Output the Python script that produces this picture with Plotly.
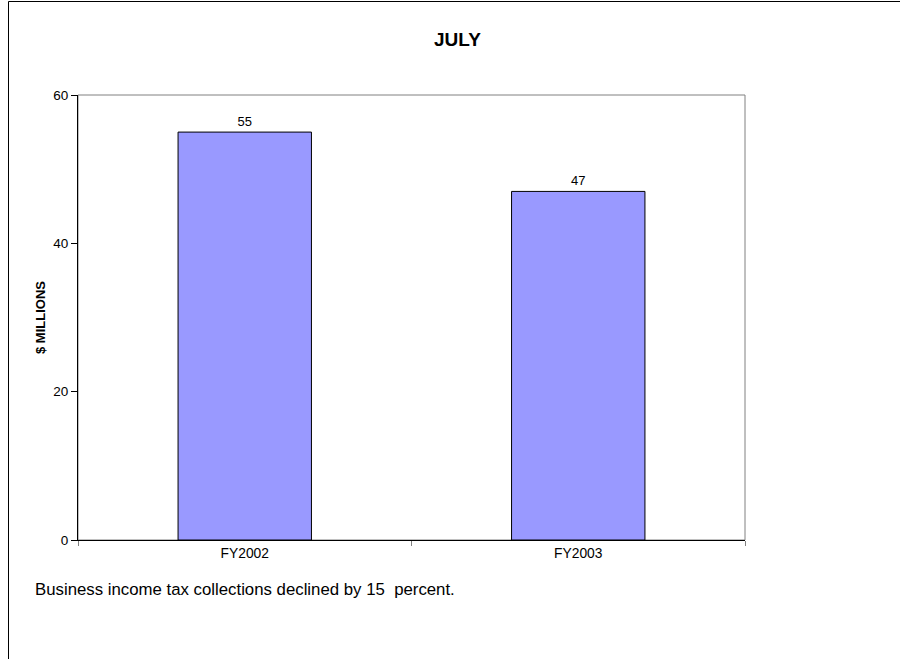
import plotly.graph_objects as go

categories = ["FY2002", "FY2003"]
values = [55, 47]
title_text = "JULY"
y_title = "$ MILLIONS"
footnote = "Business income tax collections declined by 15  percent."

W, H = 900, 659
L, R, T, B = 78, 745, 95, 540
pw, ph = R - L, B - T

def px_x(x):
    return (x - L) / pw

def px_y(y):
    return (B - y) / ph

FONT = "Arial, Liberation Sans, sans-serif"

fig = go.Figure()
fig.add_trace(go.Bar(
    x=categories, y=values, width=0.4,
    marker=dict(color="#9999FF", line=dict(color="black", width=1)),
    text=[str(v) for v in values], textposition="outside",
    textfont=dict(family=FONT, size=13, color="black"),
    cliponaxis=False, hoverinfo="skip",
))

fig.update_layout(
    width=W, height=H,
    margin=dict(l=L, r=W - R, t=T, b=H - B),
    paper_bgcolor="white", plot_bgcolor="white",
    showlegend=False,
    font=dict(family=FONT, size=13, color="black"),
    xaxis=dict(type="category", tickson="boundaries", ticks="outside", ticklen=5,
               tickcolor="#808080", showline=True, linecolor="black", linewidth=1,
               showgrid=False, tickfont=dict(size=13.8), range=[-0.5, 1.5]),
    yaxis=dict(range=[0, 60], dtick=20, ticks="outside", ticklen=6, tickcolor="black",
               showline=True, linecolor="black", linewidth=1, showgrid=False,
               zeroline=False, tickfont=dict(size=13.5)),
    shapes=[
        dict(type="rect", xref="paper", yref="paper", x0=0, x1=1, y0=0, y1=1,
             line=dict(color="#808080", width=1), layer="below"),
        dict(type="rect", xref="paper", yref="paper", x0=px_x(8.5), x1=px_x(1000),
             y0=px_y(800), y1=px_y(1.5), line=dict(color="black", width=1), layer="below"),
    ],
    annotations=[
        dict(text="<b>" + title_text + "</b>", xref="paper", yref="paper",
             x=px_x(457), y=px_y(39), showarrow=False, font=dict(size=19),
             xanchor="center", yanchor="middle"),
        dict(text="<b>" + y_title + "</b>", xref="paper", yref="paper",
             x=px_x(40), y=px_y(318), showarrow=False, textangle=-90, font=dict(size=13),
             xanchor="center", yanchor="middle"),
        dict(text=footnote, xref="paper", yref="paper",
             x=px_x(33), y=px_y(589), showarrow=False, font=dict(size=16.8),
             xanchor="left", yanchor="middle"),
    ],
)

fig.write_html("out.html", config={"displayModeBar": False},
               post_script="document.body.style.margin='0';")
